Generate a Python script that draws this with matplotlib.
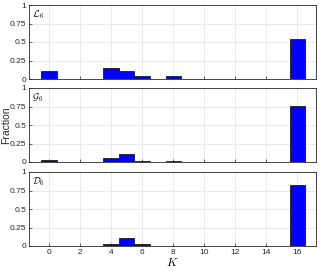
import matplotlib
matplotlib.use("Agg")
import matplotlib.pyplot as plt
import numpy as np

plt.rcParams['font.family'] = ['Liberation Sans', 'DejaVu Sans']
plt.rcParams['mathtext.fontset'] = 'cm'

K = [0, 4, 5, 6, 8, 16]
L6 = [0.11, 0.15, 0.11, 0.035, 0.035, 0.54]
G6 = [0.025, 0.06, 0.11, 0.02, 0.02, 0.76]
D6 = [0.003, 0.025, 0.105, 0.025, 0.005, 0.83]
labels = [r"$\mathcal{L}_6$", r"$\mathcal{G}_6$", r"$\mathcal{D}_6$"]
series = [L6, G6, D6]
xticks = list(range(0, 17, 2))
yticks = [0, 0.25, 0.5, 0.75, 1]
yticklabels = ["0", "0.25", "0.5", "0.75", "1"]

fig = plt.figure(figsize=(3.21, 2.71), dpi=100)
W, H = 321, 271
tops = [5, 88, 172]
h = 74
left, right = 29, 316
axes = []
for i, (vals, lab) in enumerate(zip(series, labels)):
    ax = fig.add_axes([left / W, 1 - (tops[i] + h) / H, (right - left) / W, h / H])
    ax.bar(K, vals, width=1.0, color="#0000ff", edgecolor="#1a1a1a", linewidth=0.6, zorder=3)
    ax.set_xlim(-1.3, 17.2)
    ax.set_ylim(0, 1)
    ax.set_xticks(xticks)
    ax.set_yticks(yticks)
    ax.set_yticklabels(yticklabels)
    ax.grid(True, color="#e6e6e6", linewidth=0.6, zorder=0)
    ax.tick_params(direction="in", length=2, width=0.5, labelsize=6, colors="#262626", pad=2)
    for s in ax.spines.values():
        s.set_linewidth(0.6)
        s.set_color("#262626")
    ax.text(0.012, 0.96, lab, transform=ax.transAxes, ha="left", va="top", fontsize=7)
    if i < 2:
        ax.set_xticklabels([])
    axes.append(ax)

axes[1].set_ylabel("Fraction", fontsize=7.5, color="#262626")
axes[1].yaxis.set_label_coords(-0.063, 0.5)
axes[2].set_xlabel(r"$K$", fontsize=8.5, labelpad=1)

fig.savefig("out.png", dpi=100)
